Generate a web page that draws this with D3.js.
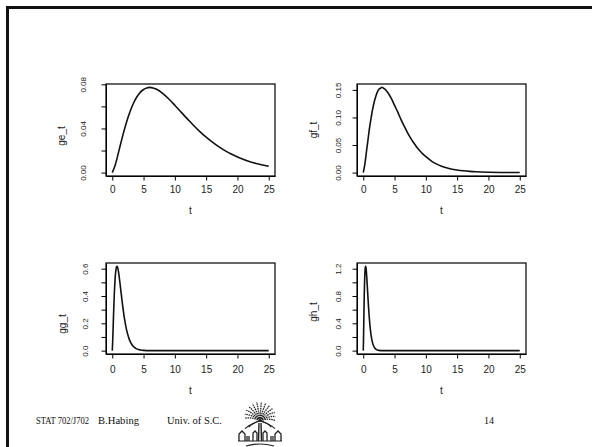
<!DOCTYPE html>
<meta charset="utf-8">
<script src="https://d3js.org/d3.v7.min.js"></script>
<style>
body { margin: 0; background: #fff; }
svg { display: block; }
.box { fill: none; stroke: #000; stroke-width: 1.2px; }
.curve { fill: none; stroke: #111; stroke-width: 1.6px; stroke-linejoin: round; }
.axis path, .axis line { stroke: #000; stroke-width: 1px; }
.xlab text { font: 10px "Liberation Sans", Arial, sans-serif; fill: #222; }
.ylab text { font: 8px "Liberation Sans", Arial, sans-serif; fill: #222; }
.title { font: 10px "Liberation Sans", Arial, sans-serif; fill: #222; }
.foot { font: 10px "Liberation Serif", "Times New Roman", serif; fill: #111; }
</style>
<body>
<script>

// values
var t_e = [0,0.5,1,1.5,2,2.5,3,3.5,4,4.5,5,5.5,6,6.5,7,8,9,10,11,12,13,14,15,16,17,18,19,20,21,22,23,24,25];
var ge_t = [0,0.0073,0.0183,0.0297,0.0403,0.0497,0.0577,0.0642,0.0692,0.0729,0.0753,0.0767,0.0772,0.0767,0.0757,
            0.0720,0.0669,0.0610,0.0548,0.0487,0.0427,0.0372,0.0321,0.0276,0.0235,0.0199,0.0168,0.0142,0.0119,0.0099,0.0083,0.0069,0.0057];

var t_f = [0,0.25,0.5,0.75,1,1.25,1.5,1.75,2,2.25,2.5,2.75,3,3.25,3.5,4,4.5,5,5.5,6,6.5,7,7.5,8,8.5,9,9.5,10,11,12,13,14,15,16,17,18,20,22,25];
var gf_t = [0,0.015,0.037,0.059,0.081,0.099,0.115,0.128,0.138,0.146,0.151,0.153,0.1545,0.153,0.151,
            0.144,0.134,0.122,0.110,0.097,0.085,0.074,0.064,0.055,0.047,0.040,0.034,0.029,
            0.020,0.014,0.0095,0.0066,0.0046,0.0032,0.0022,0.0015,0.0007,0.0003,0.0001];

var t_g = [0,0.0625,0.125,0.1875,0.25,0.3125,0.375,0.4375,0.5,0.5625,0.625,0.6875,0.75,0.8125,0.875,
           1,1.125,1.25,1.375,1.5,1.625,1.75,1.875,2,2.25,2.5,2.75,3,3.25,3.5,3.75,4,4.5,5,6,8,12,16,20,25];
var gg_t = [0,0.059,0.146,0.238,0.322,0.398,0.462,0.514,0.554,0.583,0.602,0.614,0.617,0.614,0.606,
            0.576,0.535,0.488,0.438,0.390,0.342,0.298,0.257,0.221,0.159,0.114,0.079,0.055,0.037,0.025,0.017,0.011,
            0.005,0.002,0.0003,0,0,0,0,0];

var t_h = [0,0.03125,0.0625,0.09375,0.125,0.15625,0.1875,0.21875,0.25,0.28125,0.3125,0.34375,0.375,0.40625,0.4375,
           0.5,0.5625,0.625,0.6875,0.75,0.8125,0.875,0.9375,1,1.125,1.25,1.375,1.5,1.625,1.75,1.875,2,
           2.25,2.5,3,4,8,12,16,20,25];
var gh_t = [0,0.117,0.293,0.475,0.645,0.795,0.923,1.027,1.107,1.166,1.205,1.227,1.234,1.227,1.211,
            1.152,1.070,0.976,0.877,0.779,0.683,0.595,0.514,0.442,0.318,0.227,0.158,0.110,0.075,0.051,0.034,0.023,
            0.010,0.004,0.0006,0,0,0,0,0,0];

// tick labels
var xTicks = [0,5,10,15,20,25];
var geTicks = [0,0.02,0.04,0.06,0.08],  geLabels = {0:"0.00", 0.04:"0.04", 0.08:"0.08"};
var gfTicks = [0,0.05,0.10,0.15],       gfLabels = {0:"0.00", 0.05:"0.05", 0.1:"0.10", 0.15:"0.15"};
var ggTicks = [0,0.1,0.2,0.3,0.4,0.5,0.6], ggLabels = {0:"0.0", 0.2:"0.2", 0.4:"0.4", 0.6:"0.6"};
var ghTicks = [0,0.2,0.4,0.6,0.8,1.0,1.2], ghLabels = {0:"0.0", 0.4:"0.4", 0.8:"0.8", 1.2:"1.2"};

var footer = ["STAT 702/J702", "B.Habing", "Univ. of S.C."];
var pageNo = "14";

var width = 592, height = 447;

var svg = d3.select("body").append("svg")
    .attr("width", width)
    .attr("height", height);

// slide frame (top and left edges)
svg.append("line").attr("x1", 6).attr("x2", width).attr("y1", 7.5).attr("y2", 7.5)
    .attr("stroke", "#111").attr("stroke-width", 3);
svg.append("line").attr("x1", 7.5).attr("x2", 7.5).attr("y1", 6).attr("y2", height)
    .attr("stroke", "#111").attr("stroke-width", 3);

var panels = [
  {name: "ge_t", t: t_e, v: ge_t, ticks: geTicks, labels: geLabels, x0: 106, x1: 275, y0: 84, y1: 176,
   tickX: -20, ylabX: 61, ylabY: 136, xlabY: 189, tY: 210},
  {name: "gf_t", t: t_f, v: gf_t, ticks: gfTicks, labels: gfLabels, x0: 357, x1: 526, y0: 84, y1: 176,
   tickX: -16, ylabX: 313, ylabY: 130, xlabY: 189, tY: 210},
  {name: "gg_t", t: t_g, v: gg_t, ticks: ggTicks, labels: ggLabels, x0: 106, x1: 275, y0: 263, y1: 354,
   tickX: -18, ylabX: 62, ylabY: 324, xlabY: 369, tY: 390},
  {name: "gh_t", t: t_h, v: gh_t, ticks: ghTicks, labels: ghLabels, x0: 357, x1: 526, y0: 263, y1: 354,
   tickX: -16, ylabX: 313, ylabY: 312, xlabY: 369, tY: 390}
];

panels.forEach(function(p) {
  var vmax = d3.max(p.v), vmin = d3.min(p.v);
  var pad = (vmax - vmin) * 0.04;

  var x = d3.scaleLinear().domain([-1, 26]).range([p.x0, p.x1]);
  var y = d3.scaleLinear().domain([vmin - pad, vmax + pad]).range([p.y1, p.y0]);

  var g = svg.append("g");

  var pts = p.t.map(function(d, i) { return [d, p.v[i]]; });
  var line = d3.line()
      .x(function(d) { return x(d[0]); })
      .y(function(d) { return y(d[1]); })
      .curve(d3.curveMonotoneX);

  g.append("path").attr("class", "curve").attr("d", line(pts));

  g.append("rect").attr("class", "box")
      .attr("x", p.x0).attr("y", p.y0)
      .attr("width", p.x1 - p.x0).attr("height", p.y1 - p.y0);

  // x axis
  var xa = g.append("g").attr("class", "axis xlab")
      .attr("transform", "translate(0," + p.y1 + ")")
      .call(d3.axisBottom(x).tickValues(xTicks).tickSize(4.5).tickSizeOuter(0).tickFormat(d3.format("d")));
  xa.selectAll("text").attr("y", p.xlabY - p.y1).attr("dy", "0.36em");

  // y axis with rotated labels
  var ya = g.append("g").attr("class", "axis ylab")
      .attr("transform", "translate(" + p.x0 + ",0)")
      .call(d3.axisLeft(y).tickValues(p.ticks).tickSize(4.5).tickSizeOuter(0)
          .tickFormat(function(d) { var k = +d.toFixed(2); return p.labels[k] || ""; }));
  ya.selectAll("text")
      .attr("transform", "rotate(-90)")
      .attr("text-anchor", "middle")
      .attr("x", 0).attr("dy", 0)
      .attr("y", p.tickX);

  g.append("text").attr("class", "title")
      .attr("transform", "translate(" + (p.ylabX + 3.5) + "," + p.ylabY + ") rotate(-90)")
      .attr("text-anchor", "middle")
      .text(p.name);

  g.append("text").attr("class", "title")
      .attr("x", (x(0) + x(25)) / 2).attr("y", p.tY).attr("dy", "0.36em")
      .attr("text-anchor", "middle")
      .text("t");
});

// footer
var footX = [36, 98, 167], footW = [53, 41, 55];
svg.selectAll("text.foot").data(footer).enter().append("text")
    .attr("class", "foot")
    .attr("x", function(d, i) { return footX[i]; })
    .attr("y", 424)
    .attr("textLength", function(d, i) { return footW[i]; })
    .attr("lengthAdjust", "spacingAndGlyphs")
    .text(function(d) { return d; });
svg.append("text").attr("class", "foot").attr("x", 484).attr("y", 424).text(pageNo);

// palmetto logo
var logo = svg.append("g").attr("transform", "translate(260,421)")
    .attr("stroke", "#222").attr("fill", "none");
d3.range(-170, 1, 14).forEach(function(a) {
  var r = a * Math.PI / 180, len = 15 + 4 * Math.sin(-r);
  var ex = Math.cos(r) * len, ey = Math.sin(r) * len;
  logo.append("path")
      .attr("d", "M0,0 Q" + (ex * 0.5) + "," + (ey * 0.5 - 3) + " " + ex + "," + ey)
      .attr("stroke-width", 1.3).attr("stroke-dasharray", "1.5,0.8");
});
[-160, -135, -45, -20].forEach(function(a) {
  var r = a * Math.PI / 180;
  logo.append("path")
      .attr("d", "M0,0 Q" + (Math.cos(r) * 10) + "," + (Math.sin(r) * 4 + 4) + " " + (Math.cos(r) * 16) + "," + (Math.sin(r) * 4 + 9))
      .attr("stroke-width", 1.2);
});
logo.append("path").attr("d", "M-1,2 L-1.5,20 M1,2 L1.5,20").attr("stroke-width", 1.4);
logo.append("path").attr("d", "M-21,20 L-21,13 L-18,10 L-15,13 L-15,20 M-13,20 L-13,15 M-11,20 L-11,15 M-7,20 L-7,12 L-5,10 L-3,12 L-3,20")
    .attr("stroke-width", 1.3);
logo.append("path").attr("d", "M21,20 L21,13 L18,10 L15,13 L15,20 M13,20 L13,15 M11,20 L11,15 M7,20 L7,12 L5,10 L3,12 L3,20")
    .attr("stroke-width", 1.3);
logo.append("path").attr("d", "M-22,20 L22,20 M-14,25 Q0,21 14,25").attr("stroke-width", 1.2);

</script>
</body>
